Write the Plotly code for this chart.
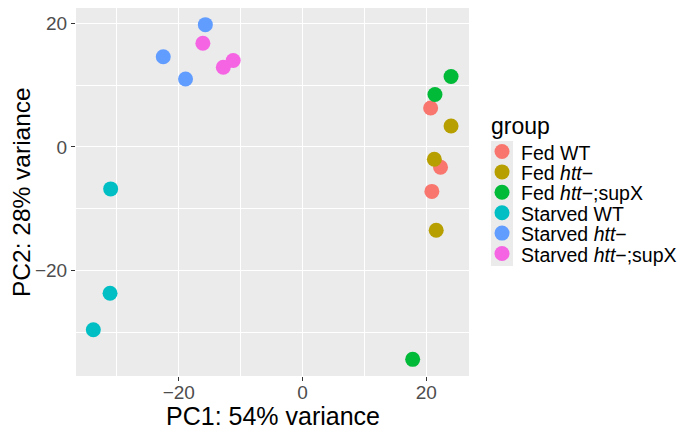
import plotly.graph_objects as go

groups = ["Fed WT", "Fed <i>htt</i>−", "Fed <i>htt</i>−;supX",
          "Starved WT", "Starved <i>htt</i>−", "Starved <i>htt</i>−;supX"]
colors = ["#F8766D", "#B79F00", "#00BA38", "#00BFC4", "#619CFF", "#F564E3"]

pc1_fed_wt = [20.7, 22.3, 20.9]
pc2_fed_wt = [6.3, -3.3, -7.2]
pc1_fed_htt = [24.0, 21.3, 21.6]
pc2_fed_htt = [3.4, -2.0, -13.5]
pc1_fed_supx = [24.0, 21.4, 17.8]
pc2_fed_supx = [11.4, 8.5, -34.4]
pc1_st_wt = [-31.0, -31.1, -33.8]
pc2_st_wt = [-6.8, -23.7, -29.6]
pc1_st_htt = [-15.7, -22.5, -18.9]
pc2_st_htt = [19.8, 14.6, 11.0]
pc1_st_supx = [-16.1, -12.8, -11.2]
pc2_st_supx = [16.8, 12.9, 14.0]

pc1 = [pc1_fed_wt, pc1_fed_htt, pc1_fed_supx, pc1_st_wt, pc1_st_htt, pc1_st_supx]
pc2 = [pc2_fed_wt, pc2_fed_htt, pc2_fed_supx, pc2_st_wt, pc2_st_htt, pc2_st_supx]

x_title = "PC1: 54% variance"
y_title = "PC2: 28% variance"
legend_title = "group"

FONT = "Liberation Sans, Arial, sans-serif"

# page has an 8px body margin; keep the figure inside the window and work in screen pixels
OFF = 8
W, H = 685 - 2 * OFF, 438 - 2 * OFF
L, R, T, B = 76 - OFF, 469 - OFF, 8 - OFF, 376 - OFF
pw, ph = R - L, B - T

def sx(v):
    return (v - OFF - L) / pw

def sy(v):
    return (B - (v - OFF)) / ph

fig = go.Figure()
for name, col, xs, ys in zip(groups, colors, pc1, pc2):
    fig.add_trace(go.Scatter(x=xs, y=ys, mode="markers", name=name, showlegend=False,
                             marker=dict(color=col, size=15, line=dict(width=0))))

# ggplot-style legend
shapes = [dict(type="rect", xref="paper", yref="paper",
               x0=sx(491), x1=sx(513), y0=sy(266), y1=sy(141),
               fillcolor="#EBEBEB", line=dict(width=0), layer="below")]
annotations = [
    dict(text=legend_title, xref="paper", yref="paper", x=sx(489), y=sy(126),
         xanchor="left", yanchor="middle", showarrow=False,
         font=dict(family=FONT, size=23, color="black")),
    dict(text=x_title, xref="paper", yref="paper", x=sx(272.5), y=sy(416),
         xanchor="center", yanchor="middle", showarrow=False,
         font=dict(family=FONT, size=25, color="black")),
    dict(text=y_title, xref="paper", yref="paper", x=sx(21), y=sy(192),
         xanchor="center", yanchor="middle", showarrow=False, textangle=-90,
         font=dict(family=FONT, size=24.5, color="black")),
]
key_y0, key_dy = 151.5, 20.4
for i, (name, col) in enumerate(zip(groups, colors)):
    cy = key_y0 + key_dy * i
    shapes.append(dict(type="circle", xref="paper", yref="paper",
                       xsizemode="pixel", ysizemode="pixel",
                       xanchor=sx(502), yanchor=sy(cy),
                       x0=-7.5, x1=7.5, y0=-7.5, y1=7.5,
                       fillcolor=col, line=dict(width=0)))
    annotations.append(dict(text=name, xref="paper", yref="paper", x=sx(519), y=sy(cy + 1),
                            xanchor="left", yanchor="middle", showarrow=False,
                            font=dict(family=FONT, size=19.5, color="black")))

axis_common = dict(
    showgrid=True, gridcolor="white", gridwidth=1.3,
    zeroline=False, showline=False,
    ticks="outside", ticklen=4, tickcolor="#333333", tickwidth=1,
    tickfont=dict(family=FONT, size=19, color="#4D4D4D"),
    dtick=20, tick0=0,
    minor=dict(dtick=10, tick0=0, showgrid=True, gridcolor="white", gridwidth=0.6, ticks=""),
)

fig.update_layout(
    width=W, height=H,
    margin=dict(l=L, r=W - R, t=T, b=H - B, pad=0),
    paper_bgcolor="white", plot_bgcolor="#EBEBEB",
    font=dict(family=FONT, color="black"),
    showlegend=False,
    xaxis=dict(range=[-36.6, 26.9], ticklabelstandoff=-5, **axis_common),
    yaxis=dict(range=[-37.1, 22.5], **axis_common),
    shapes=shapes,
    annotations=annotations,
)

fig.write_html("out.html")
